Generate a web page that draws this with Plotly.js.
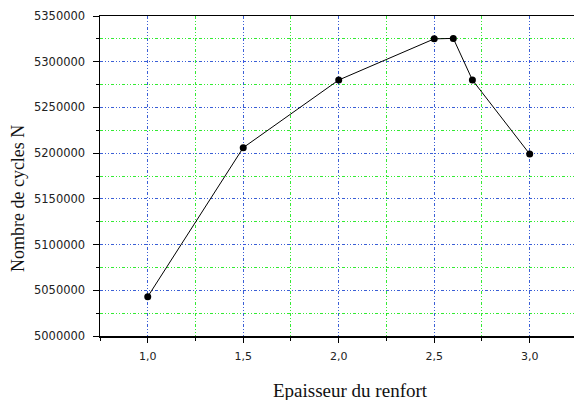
<!DOCTYPE html>
<html>
<head>
<meta charset="utf-8">
<script src="https://cdn.plot.ly/plotly-3.0.1.min.js"></script>
<style>html,body{margin:0;padding:0;background:#fff;}#chart{width:574px;height:400px;}</style>
</head>
<body>
<div id="chart"></div>
<script>
const thickness = [1.0, 1.5, 2.0, 2.5, 2.6, 2.7, 3.0];
const cycles = [5043000, 5206000, 5280000, 5325000, 5325500, 5280000, 5199000];
const xTickVals = [1.0, 1.5, 2.0, 2.5, 3.0];
const xTickText = ['1,0', '1,5', '2,0', '2,5', '3,0'];
const yTickVals = [5000000, 5050000, 5100000, 5150000, 5200000, 5250000, 5300000, 5350000];
const yTickText = yTickVals.map(v => String(v));
const xTitle = 'Epaisseur du renfort';
const yTitle = 'Nombre de cycles N';

const dash = '3px,2px,1px,2px,1px,2px';
const yTickFont = {family: 'DejaVu Sans', size: 11.5, color: '#222'};
const xTickFont = {family: 'DejaVu Sans', size: 11, color: '#222'};

Plotly.newPlot('chart', [{
  x: thickness, y: cycles, type: 'scatter', mode: 'lines+markers',
  line: {color: '#000', width: 1},
  marker: {color: '#000', size: 7},
  showlegend: false
}], {
  width: 574, height: 400,
  margin: {l: 100, r: 0, t: 16, b: 64},
  paper_bgcolor: '#fff', plot_bgcolor: '#fff',
  xaxis: {
    range: [0.75, 3.232], tickvals: xTickVals, ticktext: xTickText,
    ticks: 'outside', ticklen: 5, tickcolor: '#000', tickwidth: 1,
    showline: true, linecolor: '#000', linewidth: 1.5, mirror: true,
    showgrid: true, gridcolor: 'rgba(60,60,255,0.8)', griddash: dash, gridwidth: 1,
    minor: {dtick: 0.25, tick0: 0.75, ticks: 'outside', ticklen: 3, tickcolor: '#000',
            showgrid: true, gridcolor: 'rgba(0,230,0,0.8)', griddash: dash, gridwidth: 1},
    zeroline: false, tickfont: xTickFont, ticklabelstandoff: 4
  },
  yaxis: {
    range: [5000000, 5350000], tickvals: yTickVals, ticktext: yTickText,
    ticks: 'outside', ticklen: 6, tickcolor: '#000', tickwidth: 1,
    showline: true, linecolor: '#000', linewidth: 1.5, mirror: false,
    showgrid: true, gridcolor: 'rgba(60,60,255,0.8)', griddash: dash, gridwidth: 1,
    minor: {dtick: 25000, tick0: 5000000, ticks: 'outside', ticklen: 3, tickcolor: '#000',
            showgrid: true, gridcolor: 'rgba(0,230,0,0.8)', griddash: dash, gridwidth: 1},
    zeroline: false, tickfont: yTickFont, ticklabelstandoff: 5
  },
  annotations: [
    {text: xTitle, xref: 'paper', yref: 'paper', x: 0.5295, y: -0.169,
     xanchor: 'center', yanchor: 'middle', showarrow: false,
     font: {family: 'Liberation Serif', size: 19, color: '#111'}},
    {text: yTitle, xref: 'paper', yref: 'paper', x: -0.173, y: 0.431,
     xanchor: 'center', yanchor: 'middle', showarrow: false, textangle: -90,
     font: {family: 'Liberation Serif', size: 18, color: '#111'}}
  ]
}, {displayModeBar: false, staticPlot: true});
</script>
</body>
</html>
